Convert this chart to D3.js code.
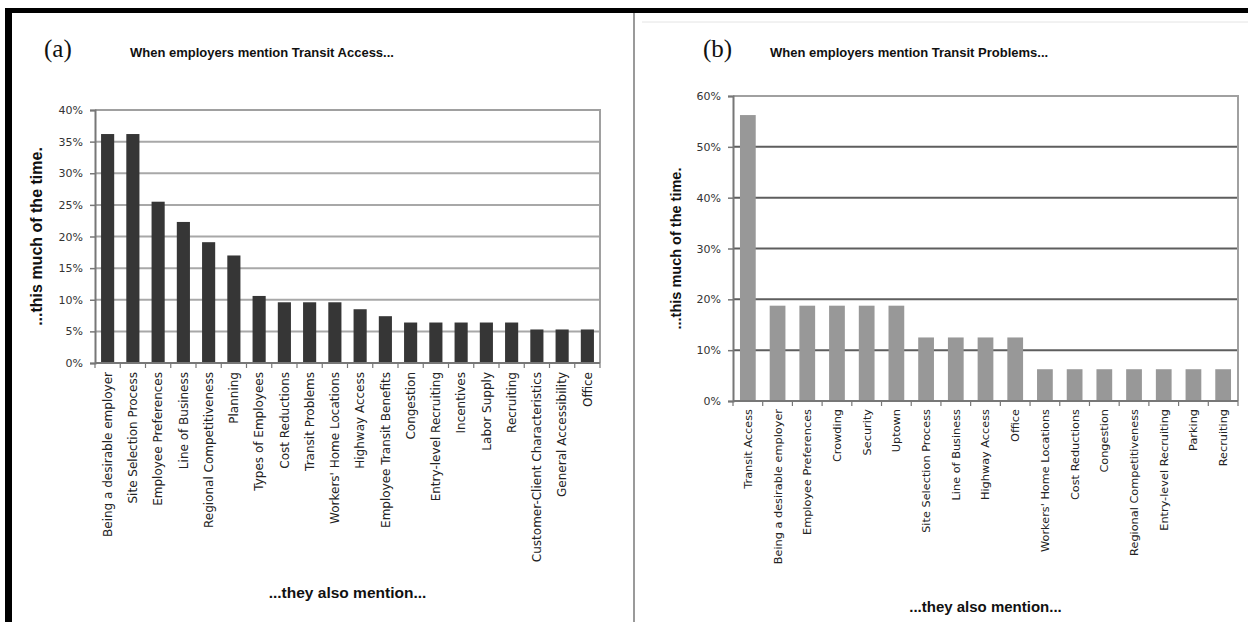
<!DOCTYPE html>
<html>
<head>
<meta charset="utf-8">
<script src="https://cdn.jsdelivr.net/npm/d3@7"></script>
<style>
  html, body { margin: 0; padding: 0; background: #fff; }
  svg { display: block; }
</style>
</head>
<body>
<div id="chart"></div>
<script>
// Panel (a): when employers mention Transit Access
const categoriesA = [
  "Being a desirable employer", "Site Selection Process", "Employee Preferences",
  "Line of Business", "Regional Competitiveness", "Planning", "Types of Employees",
  "Cost Reductions", "Transit Problems", "Workers' Home Locations", "Highway Access",
  "Employee Transit Benefits", "Congestion", "Entry-level Recruiting", "Incentives",
  "Labor Supply", "Recruiting", "Customer-Client Characteristics",
  "General Accessibility", "Office"
];
const valuesA = [36.2, 36.2, 25.5, 22.3, 19.1, 17.0, 10.6, 9.6, 9.6, 9.6, 8.5, 7.4,
  6.4, 6.4, 6.4, 6.4, 6.4, 5.3, 5.3, 5.3];
const ticksA = [0, 5, 10, 15, 20, 25, 30, 35, 40];

// Panel (b): when employers mention Transit Problems
const categoriesB = [
  "Transit Access", "Being a desirable employer", "Employee Preferences", "Crowding",
  "Security", "Uptown", "Site Selection Process", "Line of Business", "Highway Access",
  "Office", "Workers' Home Locations", "Cost Reductions", "Congestion",
  "Regional Competitiveness", "Entry-level Recruiting", "Parking", "Recruiting"
];
const valuesB = [56.25, 18.75, 18.75, 18.75, 18.75, 18.75, 12.5, 12.5, 12.5, 12.5,
  6.25, 6.25, 6.25, 6.25, 6.25, 6.25, 6.25];
const ticksB = [0, 10, 20, 30, 40, 50, 60];

const W = 1248, H = 622;
const svg = d3.select("#chart").append("svg").attr("width", W).attr("height", H);

// outer frame pieces
svg.append("rect").attr("x", 5).attr("y", 8).attr("width", W - 5).attr("height", 5).attr("fill", "#000");
svg.append("rect").attr("x", 5).attr("y", 8).attr("width", 7).attr("height", H - 8).attr("fill", "#000");
svg.append("rect").attr("x", 633).attr("y", 13).attr("width", 2).attr("height", H - 13).attr("fill", "#9a9a9a");
svg.append("line").attr("x1", 642).attr("x2", W).attr("y1", 22).attr("y2", 22)
  .attr("stroke", "#e4e4e4").attr("stroke-width", 1);

const sans = "'Liberation Sans', Arial, sans-serif";
const deja = "'DejaVu Sans', sans-serif";

function drawPanel(p) {
  const g = svg.append("g");
  const x = d3.scaleBand().domain(p.cats).range([p.left, p.right])
    .paddingInner(p.pad).paddingOuter(p.pad / 2);
  const y = d3.scaleLinear().domain([0, p.max]).range([p.bottom, p.top]);

  // gridlines
  g.append("g").selectAll("line").data(p.ticks.filter(t => t > 0 && t < p.max)).join("line")
    .attr("x1", p.left).attr("x2", p.right)
    .attr("y1", d => y(d)).attr("y2", d => y(d))
    .attr("stroke", p.grid).attr("stroke-width", 2);

  // frame top & right
  g.append("path")
    .attr("d", `M${p.left},${y(p.max)}H${p.right}V${p.bottom}`)
    .attr("fill", "none").attr("stroke", "#a0a0a0").attr("stroke-width", 2);

  // bars
  g.append("g").selectAll("rect").data(p.vals).join("rect")
    .attr("x", (d, i) => x(p.cats[i]))
    .attr("width", x.bandwidth())
    .attr("y", d => y(d))
    .attr("height", d => y(0) - y(d))
    .attr("fill", p.bar);

  // y axis
  const ya = g.append("g").attr("transform", `translate(${p.left},0)`)
    .call(d3.axisLeft(y).tickValues(p.ticks).tickFormat(d => d + "%").tickSize(5).tickPadding(7));
  ya.select(".domain").attr("stroke", "#777").attr("stroke-width", 2);
  ya.selectAll(".tick line").attr("stroke", "#777").attr("stroke-width", 1.5);
  ya.selectAll(".tick text").attr("font-family", deja).attr("font-size", "11px").attr("fill", "#333");

  // x axis line + ticks between categories
  g.append("line").attr("x1", p.left).attr("x2", p.right)
    .attr("y1", p.bottom).attr("y2", p.bottom).attr("stroke", "#777").attr("stroke-width", 2);
  const step = x.step();
  g.append("g").selectAll("line").data(d3.range(p.cats.length + 1)).join("line")
    .attr("x1", i => p.left + i * step).attr("x2", i => p.left + i * step)
    .attr("y1", p.bottom).attr("y2", p.bottom + 5)
    .attr("stroke", "#777").attr("stroke-width", 1.2);

  // category labels
  g.append("g").selectAll("text").data(p.cats).join("text")
    .attr("transform", d => `translate(${x(d) + x.bandwidth() / 2},${p.bottom + p.labelGap}) rotate(-90)`)
    .attr("dy", "0.35em")
    .attr("text-anchor", "end")
    .attr("font-family", deja)
    .attr("font-size", p.labelSize)
    .attr("fill", "#222")
    .text(d => d);

  // panel letter and title
  g.append("text").attr("x", p.letterX).attr("y", 57)
    .attr("font-family", "'Liberation Serif', 'Times New Roman', serif")
    .attr("font-size", "25px").attr("fill", "#111").text(p.letter);
  g.append("text").attr("x", p.titleX).attr("y", 57)
    .attr("font-family", sans).attr("font-weight", "bold")
    .attr("font-size", "13px").attr("fill", "#111").text(p.title);

  // axis titles
  g.append("text")
    .attr("transform", `translate(${p.yTitleX},${(p.top + p.bottom) / 2}) rotate(-90)`)
    .attr("text-anchor", "middle").attr("dy", "0.35em")
    .attr("font-family", sans).attr("font-weight", "bold")
    .attr("font-size", p.axisTitleSize).attr("fill", "#111")
    .text("...this much of the time.");
  g.append("text")
    .attr("x", (p.left + p.right) / 2).attr("y", p.xTitleY)
    .attr("text-anchor", "middle")
    .attr("font-family", sans).attr("font-weight", "bold")
    .attr("font-size", p.xTitleSize).attr("fill", "#111")
    .text("...they also mention...");
}

drawPanel({
  cats: categoriesA, vals: valuesA, ticks: ticksA, max: 40,
  left: 95, right: 600, top: 110, bottom: 363, pad: 0.48,
  bar: "#363636", grid: "#a8a8a8",
  labelGap: 9, labelSize: "12px",
  letter: "(a)", letterX: 44, title: "When employers mention Transit Access...", titleX: 130,
  yTitleX: 36, axisTitleSize: "16px", xTitleY: 598, xTitleSize: "15.5px"
});

drawPanel({
  cats: categoriesB, vals: valuesB, ticks: ticksB, max: 60,
  left: 733, right: 1238, top: 96, bottom: 401, pad: 0.47,
  bar: "#989898", grid: "#5e5e5e",
  labelGap: 8, labelSize: "11.3px",
  letter: "(b)", letterX: 703, title: "When employers mention Transit Problems...", titleX: 770,
  yTitleX: 676, axisTitleSize: "14.5px", xTitleY: 612, xTitleSize: "15px"
});
</script>
</body>
</html>
